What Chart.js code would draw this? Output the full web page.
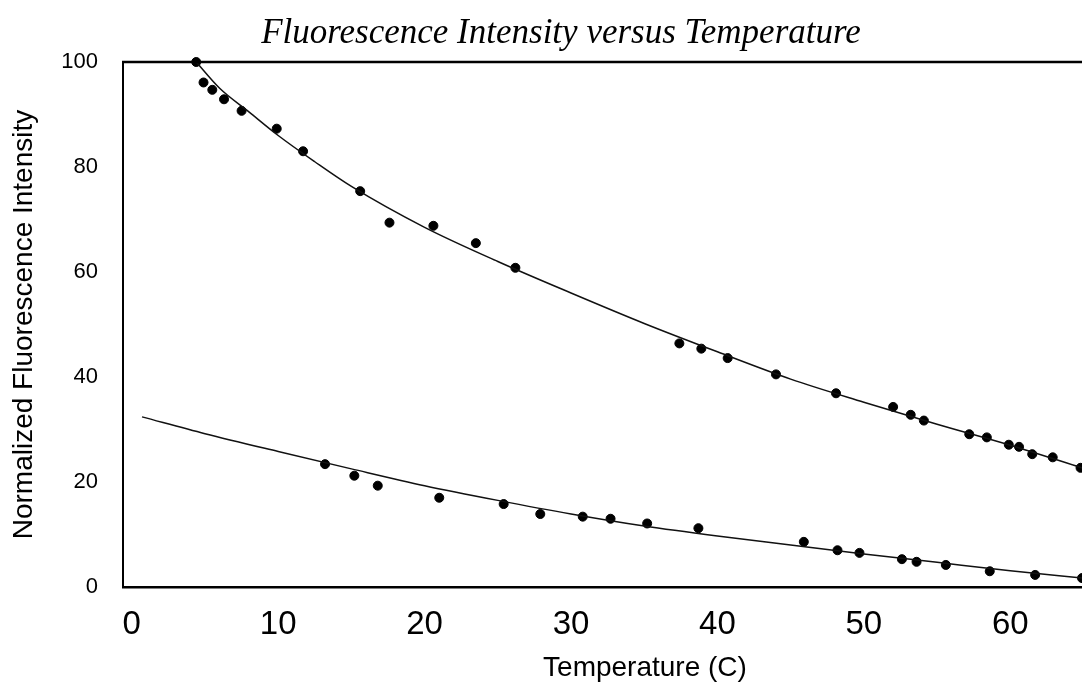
<!DOCTYPE html>
<html lang="en">
<head>
    <meta charset="UTF-8">
    <title>Fluorescence Intensity versus Temperature</title>
    <style>
        html, body { margin: 0; padding: 0; background: #fff; }
        #wrap { width: 1082px; height: 686px; position: relative; }
    </style>
</head>
<body>
<div id="wrap"><canvas id="chart" width="1082" height="686"></canvas></div>

<script src="https://cdn.jsdelivr.net/npm/chart.js"></script>
<script>
    // measured points, upper series
    const upperTemp = [4.4, 4.9, 5.5, 6.3, 7.5, 9.9, 11.7, 15.6, 17.6, 20.6, 23.5, 26.2,
        37.4, 38.9, 40.7, 44.0, 48.1, 52.0, 53.2, 54.1, 57.2, 58.4, 59.9, 60.6, 61.5, 62.9, 64.8];
    const upperIntensity = [100, 96.1, 94.7, 92.9, 90.7, 87.3, 83.0, 75.4, 69.4, 68.8, 65.5, 60.8,
        46.4, 45.4, 43.6, 40.5, 36.9, 34.3, 32.8, 31.7, 29.1, 28.5, 27.1, 26.7, 25.3, 24.7, 22.7];

    // measured points, lower series
    const lowerTemp = [13.2, 15.2, 16.8, 21.0, 25.4, 27.9, 30.8, 32.7, 35.2, 38.7,
        45.9, 48.2, 49.7, 52.6, 53.6, 55.6, 58.6, 61.7, 64.9];
    const lowerIntensity = [23.4, 21.2, 19.3, 17.0, 15.8, 13.9, 13.4, 13.0, 12.1, 11.2,
        8.6, 7.0, 6.5, 5.3, 4.8, 4.2, 3.0, 2.3, 1.7];

    // fitted curves
    const upperFitTemp = [4.4, 6, 8, 10, 12.5, 15, 20, 25, 30, 35, 40, 45, 50, 55, 60, 65];
    const upperFitIntensity = [100, 95, 90.5, 86, 81, 76.3, 68.5, 62, 56, 50.2, 44.8, 39.6, 35.2, 31, 27, 22.6];
    const lowerFitTemp = [0.7, 5, 10, 15, 20, 25, 30, 35, 40, 45, 50, 55, 60, 65];
    const lowerFitIntensity = [32.4, 29.2, 25.8, 22.5, 19.3, 16.5, 13.9, 11.6, 9.7, 8.0, 6.3, 4.7, 3.1, 1.7];

    const xTicks = [0, 10, 20, 30, 40, 50, 60];
    const yTicks = [0, 20, 40, 60, 80, 100];

    const toXY = (xs, ys) => xs.map((x, i) => ({ x: x, y: ys[i] }));

    const sans = "'Liberation Sans', Arial, sans-serif";

    // title, x title and the top frame line
    const decorations = {
        id: 'decorations',
        afterDraw(chart) {
            const { ctx, chartArea } = chart;
            ctx.save();
            ctx.strokeStyle = '#000';
            ctx.lineWidth = 2.5;
            ctx.beginPath();
            ctx.moveTo(chartArea.left - 1, chartArea.top);
            ctx.lineTo(chart.width, chartArea.top);
            ctx.stroke();

            ctx.fillStyle = '#000';
            ctx.textAlign = 'center';
            ctx.textBaseline = 'alphabetic';
            ctx.font = "italic 35px 'Liberation Serif', 'Times New Roman', serif";
            ctx.fillText('Fluorescence Intensity versus Temperature', 561, 43);

            ctx.font = '28px ' + sans;
            ctx.fillText('Temperature (C)', 645, 676);
            ctx.restore();
        }
    };

    new Chart(document.getElementById('chart'), {
        type: 'scatter',
        data: {
            datasets: [
                {
                    label: 'Upper fit',
                    data: toXY(upperFitTemp, upperFitIntensity),
                    showLine: true,
                    pointRadius: 0,
                    borderColor: '#111',
                    borderWidth: 1.5,
                    cubicInterpolationMode: 'monotone'
                },
                {
                    label: 'Lower fit',
                    data: toXY(lowerFitTemp, lowerFitIntensity),
                    showLine: true,
                    pointRadius: 0,
                    borderColor: '#111',
                    borderWidth: 1.5,
                    cubicInterpolationMode: 'monotone'
                },
                {
                    label: 'Upper',
                    data: toXY(upperTemp, upperIntensity),
                    pointRadius: 4.5,
                    backgroundColor: '#000',
                    borderColor: '#000',
                    clip: false
                },
                {
                    label: 'Lower',
                    data: toXY(lowerTemp, lowerIntensity),
                    pointRadius: 4.5,
                    backgroundColor: '#000',
                    borderColor: '#000',
                    clip: false
                }
            ]
        },
        options: {
            responsive: false,
            animation: false,
            events: [],
            layout: { autoPadding: false, padding: { top: 62, left: 0, right: 0, bottom: 0 } },
            plugins: {
                legend: { display: false },
                title: { display: false },
                tooltip: { enabled: false }
            },
            scales: {
                x: {
                    type: 'linear',
                    min: -0.6,
                    max: 64.9,
                    afterFit: s => { s.height = 99; s.paddingLeft = 0; s.paddingRight = 0; },
                    afterBuildTicks: s => { s.ticks = xTicks.map(v => ({ value: v })); },
                    grid: { display: false, drawTicks: false },
                    border: { display: true, color: '#000', width: 2.5 },
                    ticks: {
                        padding: 18,
                        color: '#000',
                        font: { family: sans, size: 33 }
                    }
                },
                y: {
                    min: 0,
                    max: 100,
                    afterFit: s => { s.width = 123; },
                    afterBuildTicks: s => { s.ticks = yTicks.map(v => ({ value: v })); },
                    grid: { display: false, drawTicks: false },
                    border: { display: true, color: '#000', width: 2 },
                    ticks: {
                        padding: 25,
                        color: '#000',
                        font: { family: sans, size: 22 }
                    },
                    title: {
                        display: true,
                        text: 'Normalized Fluorescence Intensity',
                        color: '#000',
                        font: { family: sans, size: 28 },
                        padding: { top: 7, bottom: 0 }
                    }
                }
            }
        },
        plugins: [decorations]
    });
</script>
</body>
</html>
